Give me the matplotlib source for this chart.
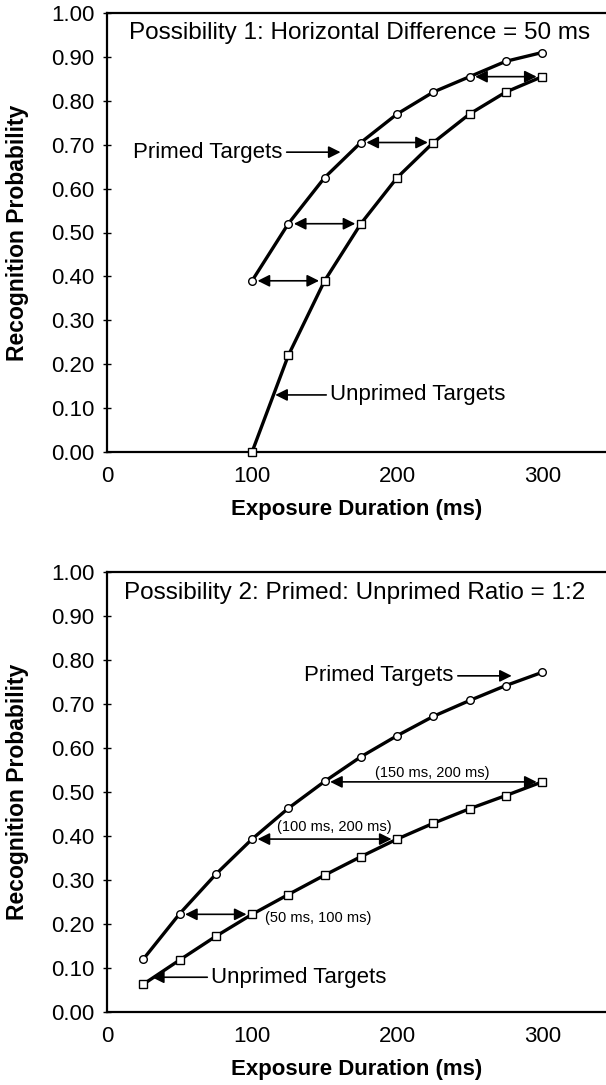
import matplotlib.pyplot as plt

plt.rcParams['font.family'] = ['Liberation Sans', 'DejaVu Sans']

# Possibility 1
p1_x = [100, 125, 150, 175, 200, 225, 250, 275, 300]
p1_primed = [0.39, 0.52, 0.625, 0.705, 0.77, 0.82, 0.855, 0.89, 0.91]
p1_unprimed = [0.00, 0.22, 0.39, 0.52, 0.625, 0.705, 0.77, 0.82, 0.855]
p1_arrows = [(100, 150, 0.39), (125, 175, 0.52), (175, 225, 0.705), (250, 300, 0.855)]

# Possibility 2
p2_x = [25, 50, 75, 100, 125, 150, 175, 200, 225, 250, 275, 300]
p2_primed = [0.12, 0.223, 0.313, 0.393, 0.463, 0.524, 0.58, 0.628, 0.672, 0.708, 0.742, 0.772]
p2_unprimed = [0.063, 0.118, 0.172, 0.222, 0.267, 0.311, 0.353, 0.393, 0.429, 0.462, 0.492, 0.523]
p2_arrows = [(50, 100, 0.222), (100, 200, 0.393), (150, 300, 0.523)]
p2_arrow_labels = ['(50 ms, 100 ms)', '(100 ms, 200 ms)', '(150 ms, 200 ms)']

yticks = [i / 10 for i in range(11)]
xticks = [0, 100, 200, 300]

fig = plt.figure(figsize=(6.06, 10.85), dpi=100)
ax1 = fig.add_axes([107 / 606, 1 - 452 / 1085, 1 - 107 / 606, 439 / 1085])
ax2 = fig.add_axes([107 / 606, 1 - 1012 / 1085, 1 - 107 / 606, 440 / 1085])


def style(ax):
    ax.set_xlim(0, 344)
    ax.set_ylim(0, 1.0)
    ax.set_yticks(yticks)
    ax.set_yticklabels(['%.2f' % v for v in yticks])
    ax.set_xticks(xticks)
    ax.tick_params(axis='y', direction='inout', length=6, width=1, labelsize=16, pad=6)
    ax.tick_params(axis='x', length=0, labelsize=16, pad=10)
    ax.spines['right'].set_visible(False)
    for s in ['left', 'top', 'bottom']:
        ax.spines[s].set_linewidth(1.6)
    ax.set_xlabel('Exposure Duration (ms)', fontsize=16, fontweight='bold')
    ax.set_ylabel('Recognition Probability', fontsize=16.5, fontweight='bold')
    ax.xaxis.set_label_coords(0.5, -47 / 440)
    ax.yaxis.set_label_coords(-78 / 499, 0.5)


def curve(ax, x, y, marker):
    ax.plot(x, y, color='black', lw=2.4, marker=marker, ms=5.5,
            mfc='white', mec='black', mew=1, zorder=3, clip_on=False)


def dbl_arrow(ax, x0, x1, y):
    ax.annotate('', xy=(x1, y), xytext=(x0, y),
                arrowprops=dict(arrowstyle='<|-|>', color='black', lw=1.2,
                                mutation_scale=18, shrinkA=4, shrinkB=4), zorder=2)


def label_arrow(ax, text, tip, txt, ha='left'):
    ax.annotate(text, xy=tip, xytext=txt, fontsize=16, va='center', ha=ha,
                arrowprops=dict(arrowstyle='-|>', color='black', lw=1.2,
                                mutation_scale=18, shrinkA=1, shrinkB=0))


style(ax1)
curve(ax1, p1_x, p1_primed, 'o')
curve(ax1, p1_x, p1_unprimed, 's')
for x0, x1, y in p1_arrows:
    dbl_arrow(ax1, x0, x1, y)
ax1.text(174, 0.954, 'Possibility 1: Horizontal Difference = 50 ms', fontsize=17.5,
         ha='center', va='center')
label_arrow(ax1, 'Primed Targets', (161, 0.683), (121, 0.683), ha='right')
label_arrow(ax1, 'Unprimed Targets', (116, 0.13), (154, 0.13))

style(ax2)
curve(ax2, p2_x, p2_primed, 'o')
curve(ax2, p2_x, p2_unprimed, 's')
for x0, x1, y in p2_arrows:
    dbl_arrow(ax2, x0, x1, y)
ax2.text(109, 0.214, p2_arrow_labels[0], fontsize=10.5, ha='left', va='center')
ax2.text(157, 0.42, p2_arrow_labels[1], fontsize=10.5, ha='center', va='center')
ax2.text(224, 0.543, p2_arrow_labels[2], fontsize=10.5, ha='center', va='center')
ax2.text(171, 0.952, 'Possibility 2: Primed: Unprimed Ratio = 1:2', fontsize=17.5,
         ha='center', va='center')
label_arrow(ax2, 'Primed Targets', (279, 0.764), (239, 0.764), ha='right')
label_arrow(ax2, 'Unprimed Targets', (31, 0.079), (72, 0.079))

fig.savefig('out.png', dpi=100)
